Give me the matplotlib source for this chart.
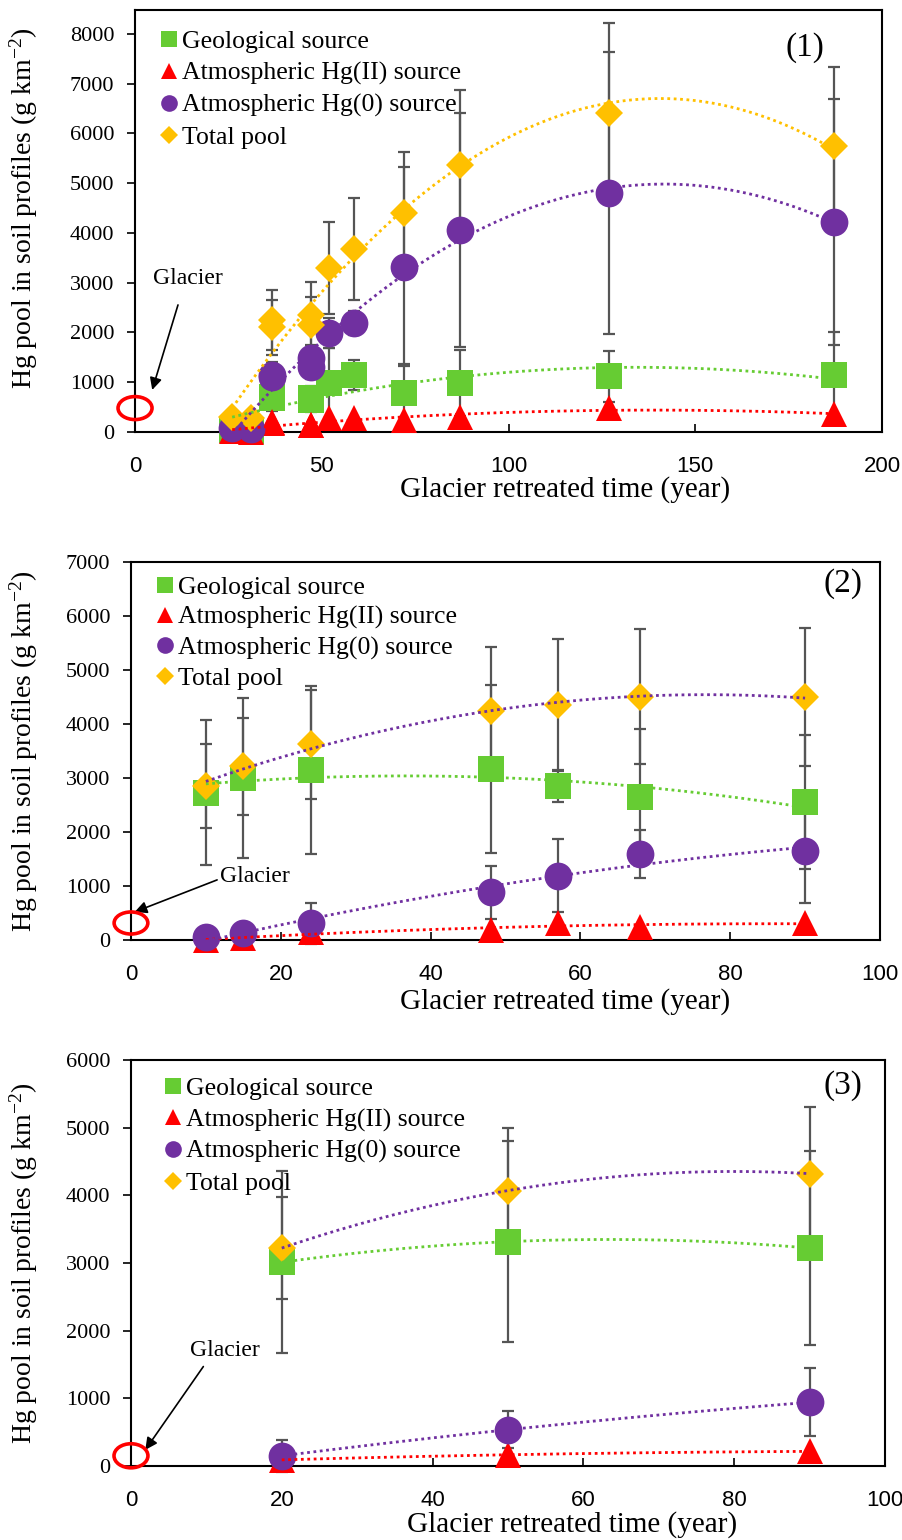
import numpy as np
import matplotlib
matplotlib.use("Agg")
import matplotlib.pyplot as plt
from matplotlib.patches import Ellipse

SERIF = ["Liberation Serif", "DejaVu Serif"]
NARROW = ["Liberation Sans Narrow", "Liberation Sans", "DejaVu Sans"]
plt.rcParams["font.family"] = SERIF
plt.rcParams["mathtext.fontset"] = "custom"
plt.rcParams["mathtext.rm"] = "Liberation Serif"
plt.rcParams["mathtext.default"] = "regular"

labels = ["Geological source", "Atmospheric Hg(II) source",
          "Atmospheric Hg(0) source", "Total pool"]

# panel (1)
age1 = [26, 31, 36.6, 36.6, 47, 47, 52, 58.6, 72, 87, 127, 187]
geo1 = [30, 20, 700, 680, 680, 650, 980, 1150, 780, 990, 1120, 1140]
geo1_err = [0, 0, 250, 250, 250, 250, 700, 300, 590, 660, 510, 860]
hg2_1 = [10, 0, 200, 190, 140, 150, 280, 280, 240, 300, 480, 360]
hg0_1 = [80, 60, 1150, 1100, 1490, 1310, 1990, 2190, 3320, 4060, 4800, 4220]
hg0_1_err = [0, 0, 250, 250, 250, 250, 300, 250, 2000, 2350, 2830, 2470]
tot1 = [300, 280, 2250, 2100, 2350, 2150, 3300, 3680, 4400, 5370, 6420, 5750]
tot1_err = [0, 0, 600, 550, 670, 570, 920, 1020, 1235, 1500, 1800, 1590]

# panel (2)
age2 = [10, 15, 24, 48, 57, 68, 90]
geo2 = [2730, 3000, 3150, 3170, 2845, 2650, 2550]
geo2_err = [1340, 1475, 1550, 1550, 290, 1265, 1240]
hg2_2 = [0, 30, 150, 185, 310, 250, 310]
hg0_2 = [60, 125, 310, 880, 1190, 1590, 1640]
hg0_2_err = [0, 0, 380, 490, 680, 450, 960]
tot2 = [2850, 3215, 3620, 4240, 4360, 4500, 4500]
tot2_err = [770, 895, 1005, 1190, 1205, 1250, 1270]

# panel (3)
age3 = [20, 50, 90]
geo3 = [3010, 3315, 3220]
geo3_err = [1345, 1485, 1435]
hg2_3 = [90, 165, 215]
hg0_3 = [150, 535, 940]
hg0_3_err = [235, 270, 500]
tot3 = [3220, 4070, 4320]
tot3_err = [750, 930, 985]

GREEN = "#66CC33"
RED = "#FF0000"
PURPLE = "#7030A0"
ORANGE = "#FFC000"
ERRC = "#555555"


def draw_panel(ax, age, geo, geo_err, hg2, hg0, hg0_err, tot, tot_err,
               xmax, xstep, ymax, ytop, tag, tag_xy, tot_trend_color,
               glacier_txt, glacier_tail, glacier_head, ell_y, ell_w, ell_h,
               xlab_xy, ylab_xy, leg_anchor, leg_space):
    age = np.array(age, dtype=float)
    for vals, errs in [(geo, geo_err), (hg0, hg0_err), (tot, tot_err)]:
        ax.errorbar(age, vals, yerr=errs, fmt="none", ecolor=ERRC,
                    elinewidth=1.6, capsize=4.5, capthick=1.6, zorder=2,
                    clip_on=False)

    series = [(geo, "s", GREEN, 19), (hg2, "^", RED, 19),
              (hg0, "o", PURPLE, 20), (tot, "D", ORANGE, 14.5)]
    handles = []
    for (vals, mk, col, ms), lab in zip(series, labels):
        h, = ax.plot(age, vals, linestyle="none", marker=mk, color=col,
                     markersize=ms, markeredgewidth=0, zorder=3,
                     clip_on=False, label=lab)
        handles.append(h)

    # 2nd-order polynomial trendlines
    xs = np.linspace(age.min(), age.max(), 200)
    trend_cols = [GREEN, RED, PURPLE, tot_trend_color]
    for (vals, _, _, _), col in zip(series, trend_cols):
        c = np.polyfit(age, vals, 2)
        ax.plot(xs, np.polyval(c, xs), color=col, lw=2.0,
                linestyle=(0, (1, 1.3)), zorder=4)

    ax.set_xlim(0, xmax)
    ax.set_ylim(0, ytop)
    ax.set_xticks(np.arange(0, xmax + 1, xstep))
    ax.set_yticks(np.arange(0, ymax + 1, 1000))
    ax.tick_params(axis="x", direction="in", length=6, width=1.2, pad=17,
                   labelsize=16)
    ax.tick_params(axis="y", direction="out", length=6, width=1.2, pad=9,
                   labelsize=16)
    for t in ax.get_xticklabels():
        t.set_fontfamily(NARROW)
    for t in ax.get_yticklabels():
        t.set_fontfamily(SERIF)
    for s in ax.spines.values():
        s.set_linewidth(1.5)
        s.set_color("black")

    ax.set_xlabel("Glacier retreated time (year)", fontsize=21)
    ax.xaxis.set_label_coords(*xlab_xy)
    ax.set_ylabel("Hg pool in soil profiles (g km$^{-2}$)", fontsize=20)
    ax.yaxis.set_label_coords(*ylab_xy)

    ax.text(tag_xy[0], tag_xy[1], tag, transform=ax.transAxes, fontsize=24,
            ha="center", va="center")

    ax.text(glacier_txt[0], glacier_txt[1], "Glacier", fontsize=17,
            ha="center", va="center")
    ax.annotate("", xy=glacier_head, xytext=glacier_tail,
                arrowprops=dict(arrowstyle="-|>", color="black", lw=1.2,
                                mutation_scale=18, shrinkA=0, shrinkB=0))
    ax.add_patch(Ellipse((0, ell_y), ell_w, ell_h, fill=False, ec=RED,
                         lw=2.6, clip_on=False, zorder=5))

    ax.legend(handles=handles, loc="upper left", bbox_to_anchor=leg_anchor,
              frameon=False, markerscale=0.6, handlelength=0.7,
              handletextpad=0.15, labelspacing=leg_space, borderaxespad=0.0,
              prop=dict(family=SERIF, size=18.5))


fig = plt.figure(figsize=(9.02, 15.4), dpi=100)
ax1 = fig.add_axes([0.1497, 0.7195, 0.8283, 0.2740])
ax2 = fig.add_axes([0.1452, 0.3896, 0.8304, 0.2455])
ax3 = fig.add_axes([0.1452, 0.0481, 0.8359, 0.2636])

draw_panel(ax1, age1, geo1, geo1_err, hg2_1, hg0_1, hg0_1_err, tot1, tot1_err,
           200, 50, 8000, 8480, "(1)", (0.897, 0.91), ORANGE,
           (14.2, 3075), (11.5, 2553), (4.6, 845), 480, 9.1, 462,
           (0.576, -0.104), (-0.127, 0.53), (0.02, 0.976), 0.33)
draw_panel(ax2, age2, geo2, geo2_err, hg2_2, hg0_2, hg0_2_err, tot2, tot2_err,
           100, 20, 7000, 7000, "(2)", (0.95, 0.944), PURPLE,
           (16.6, 1170), (11.5, 1113), (0.5, 520), 315, 4.5, 408,
           (0.579, -0.127), (-0.1215, 0.5), (0.02, 0.99), 0.27)
draw_panel(ax3, age3, geo3, geo3_err, hg2_3, hg0_3, hg0_3_err, tot3, tot3_err,
           100, 20, 6000, 6000, "(3)", (0.944, 0.938), PURPLE,
           (12.4, 1706), (9.6, 1469), (1.9, 237), 150, 4.5, 356,
           (0.585, -0.111), (-0.1207, 0.5), (0.03, 0.983), 0.32)

fig.savefig("out.png", dpi=100)
print("Wrote out.png")
